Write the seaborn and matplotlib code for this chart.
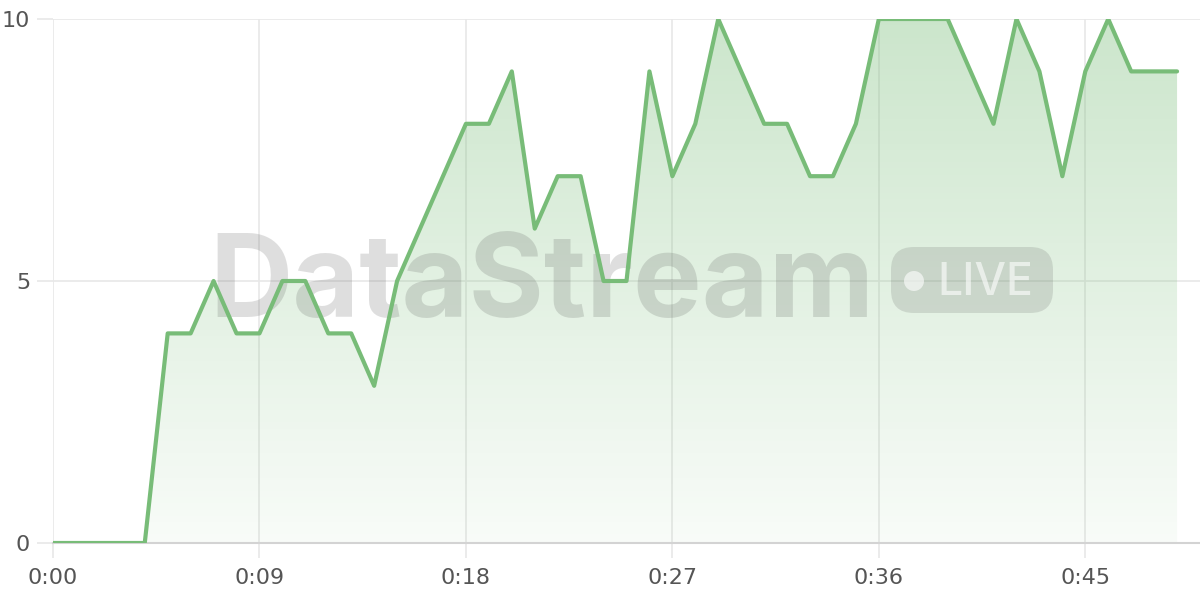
import numpy as np
import pandas as pd
import matplotlib
matplotlib.use("Agg")
import matplotlib.pyplot as plt
import seaborn as sns
from matplotlib.colors import LinearSegmentedColormap
from matplotlib.patches import FancyBboxPatch, Ellipse

# ---- data ----
seconds = list(range(50))
values = [0, 0, 0, 0, 0, 4, 4, 5, 4, 4,
          5, 5, 4, 4, 3, 5, 6, 7, 8, 8,
          9, 6, 7, 7, 5, 5, 9, 7, 8, 10,
          9, 8, 8, 7, 7, 8, 10, 10, 10, 10,
          9, 8, 10, 9, 7, 9, 10, 9, 9, 9]
x_ticks = [0, 9, 18, 27, 36, 45]
x_tick_labels = ["0:00", "0:09", "0:18", "0:27", "0:36", "0:45"]
y_ticks = [0, 5, 10]
y_tick_labels = ["0", "5", "10"]

df = pd.DataFrame({"t": seconds, "v": values})

sns.set_theme(style="white")
plt.rcParams['font.family'] = ['DejaVu Sans']

W, H = 1200, 600
fig = plt.figure(figsize=(12, 6), dpi=100)
ax = fig.add_axes([53 / W, 1 - 543 / H, (1200 - 53) / W, (543 - 19) / H])

line_color = "#78bc78"

# gradient fill under the line
poly = ax.fill_between(df["t"], df["v"], 0, color="none", lw=0)
grad = np.linspace(0, 1, 256).reshape(-1, 1)
cmap = LinearSegmentedColormap.from_list(
    "g", [(0.47, 0.74, 0.47, 0.05), (0.47, 0.74, 0.47, 0.38)])
im = ax.imshow(grad, extent=[0, 49, 0, 10], origin="lower",
               aspect="auto", cmap=cmap, zorder=1)
im.set_clip_path(poly.get_paths()[0], transform=ax.transData)

sns.lineplot(data=df, x="t", y="v", ax=ax, color=line_color, linewidth=3,
             zorder=4)

ax.set_xlim(0, 50)
ax.set_ylim(0, 10)
ax.set_xticks(x_ticks)
ax.set_xticklabels(x_tick_labels)
ax.set_yticks(y_ticks)
ax.set_yticklabels(y_tick_labels)
ax.set_xlabel("")
ax.set_ylabel("")
ax.grid(True, color="#e8e8e8", lw=1.2, zorder=0)
for s in ["top", "right", "left"]:
    ax.spines[s].set_visible(False)
ax.spines["bottom"].set_color("#d3d3d3")
ax.spines["bottom"].set_linewidth(1.5)
ax.tick_params(axis="x", bottom=True, length=11, width=1.2, color="#e8e8e8",
               labelsize=16, labelcolor="#555555", pad=7)
ax.tick_params(axis="y", left=True, length=11.5, width=1.2, color="#e8e8e8",
               labelsize=16, labelcolor="#555555", pad=5)


def fx(px):
    return px / W


def fy(py):
    return 1 - py / H


# watermark (below the line, above the fill)
tf = fig.transFigure
ax.text(fx(209), fy(317), "DataStream", fontsize=83, fontweight="bold",
        family=["Inter", "DejaVu Sans"], color=(0.3, 0.3, 0.3), alpha=0.18,
        ha="left", va="baseline", zorder=2, transform=tf, clip_on=False)
badge = FancyBboxPatch((fx(891), fy(313)), fx(1053) - fx(891),
                       fy(247) - fy(313),
                       boxstyle="round,pad=0,rounding_size=0.019",
                       transform=tf, facecolor=(0.3, 0.3, 0.3),
                       alpha=0.16, edgecolor="none", zorder=2,
                       mutation_aspect=2, clip_on=False)
ax.add_artist(badge)
dot = Ellipse((fx(914), fy(281)), 20 / W, 20 / H, transform=tf,
              facecolor="white", alpha=0.6, edgecolor="none", zorder=3,
              clip_on=False)
ax.add_artist(dot)
ax.text(fx(937), fy(295), "LIVE", fontsize=32, fontweight="medium",
        family=["Inter", "DejaVu Sans"], color="white", alpha=0.6,
        ha="left", va="baseline", zorder=3, transform=tf, clip_on=False)

fig.savefig("out.png", dpi=100, facecolor="white")
